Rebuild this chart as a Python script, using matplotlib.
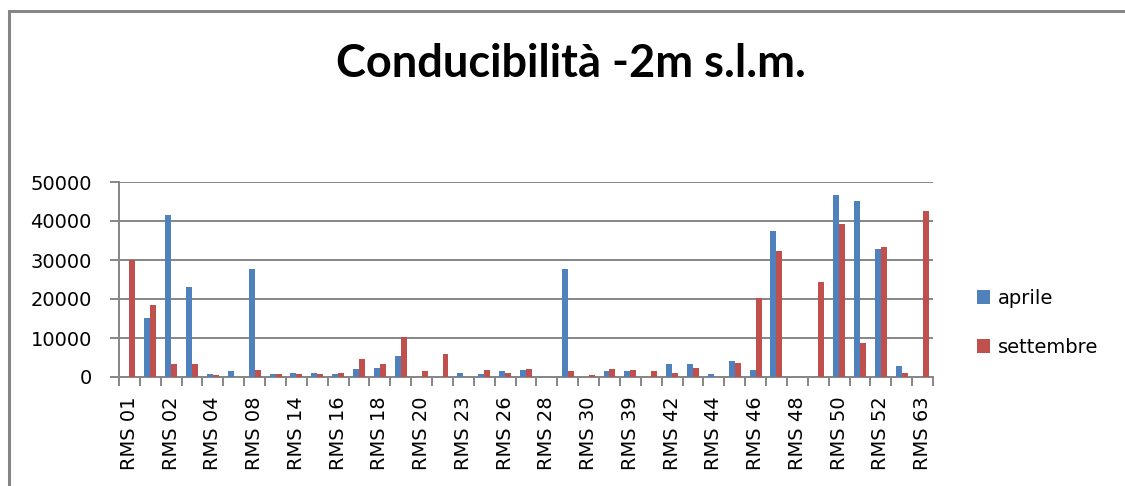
import numpy as np
import matplotlib
matplotlib.use("Agg")
import matplotlib.pyplot as plt
from matplotlib.patches import Patch, Rectangle

# Monitoring wells (every other name is printed on the axis)
stations = [
    "RMS 01", "RMS 01B", "RMS 02", "RMS 03", "RMS 04", "RMS 06", "RMS 08", "RMS 10",
    "RMS 14", "RMS 15", "RMS 16", "RMS 17", "RMS 18", "RMS 19", "RMS 20", "RMS 22",
    "RMS 23", "RMS 25", "RMS 26", "RMS 27", "RMS 28", "RMS 29", "RMS 30", "RMS 35",
    "RMS 39", "RMS 40", "RMS 42", "RMS 43", "RMS 44", "RMS 45", "RMS 46", "RMS 47",
    "RMS 48", "RMS 49", "RMS 50", "RMS 51", "RMS 52", "RMS 55", "RMS 63",
]

# Electrical conductivity (uS/cm) at -2 m a.s.l.
aprile = [
    0, 15200, 41500, 23100, 850, 1600, 27700, 850,
    1100, 1100, 850, 2100, 2400, 5450, 0, 0,
    1100, 850, 1600, 1900, 0, 27700, 0, 1600,
    1600, 0, 3400, 3400, 850, 4200, 1900, 37400,
    0, 0, 46600, 45100, 32800, 2900, 0,
]
settembre = [
    30000, 18500, 3400, 3400, 600, 0, 1900, 850,
    850, 850, 1100, 4700, 3400, 10300, 1600, 6000,
    0, 1900, 1100, 2100, 0, 1600, 600, 2100,
    1900, 1600, 1100, 2400, 0, 3700, 20300, 32300,
    0, 24400, 39200, 8800, 33300, 1100, 42500,
]

y_ticks = [0, 10000, 20000, 30000, 40000, 50000]

BLUE = "#4F81BD"
RED = "#C0504D"
GREY = "#868686"

plt.rcParams["font.family"] = ["DejaVu Sans"]

fig = plt.figure(figsize=(11.25, 4.86), dpi=100)
ax = fig.add_axes([119 / 1125, 1 - 377 / 486, (933 - 119) / 1125, (377 - 182) / 486])

x = np.arange(len(stations))
w = 0.286
ax.bar(x - w / 2, aprile, width=w, color=BLUE, label="aprile", zorder=3)
ax.bar(x + w / 2, settembre, width=w, color=RED, label="settembre", zorder=3)

ax.set_xlim(-0.5, len(stations) - 0.5)
ax.set_ylim(0, 50000)

# horizontal gridlines
ax.set_yticks(y_ticks)
ax.set_yticklabels([str(v) for v in y_ticks], fontsize=14)
ax.yaxis.grid(True, color=GREY, linewidth=1.4, zorder=0)
ax.tick_params(axis="y", length=6.5, width=1.4, color=GREY, pad=13)

# category labels at every other group, tick marks between groups
ax.set_xticks(x[::2])
ax.set_xticklabels(stations[::2], rotation=90, fontsize=14)
ax.set_xticks(np.arange(-0.5, len(stations)), minor=True)
ax.tick_params(axis="x", which="major", length=0, pad=14)
ax.tick_params(axis="x", which="minor", length=6.5, width=1.4, color=GREY)

for side in ("top", "right"):
    ax.spines[side].set_visible(False)
for side in ("left", "bottom"):
    ax.spines[side].set_color(GREY)
    ax.spines[side].set_linewidth(1.4)

fig.text(571 / 1125, 1 - 77 / 486, "Conducibilità -2m s.l.m.",
         ha="center", va="baseline", fontsize=32.5, fontweight="bold",
         family=["Lato", "DejaVu Sans"])

handles = [Patch(facecolor=BLUE, label="aprile"), Patch(facecolor=RED, label="settembre")]
fig.legend(handles=handles, loc="center left", bbox_to_anchor=(959 / 1125, 1 - 323 / 486),
           frameon=False, fontsize=14, handlelength=0.7, handleheight=0.7,
           handletextpad=0.4, labelspacing=1.55)

# chart-area border
fig.patches.append(Rectangle((9 / 1125, -0.1), 1.2, 1 - 11 / 486 + 0.1,
                             transform=fig.transFigure, fill=False,
                             edgecolor=GREY, linewidth=2.2, zorder=10))

fig.savefig("out.png", dpi=100, facecolor="white")
